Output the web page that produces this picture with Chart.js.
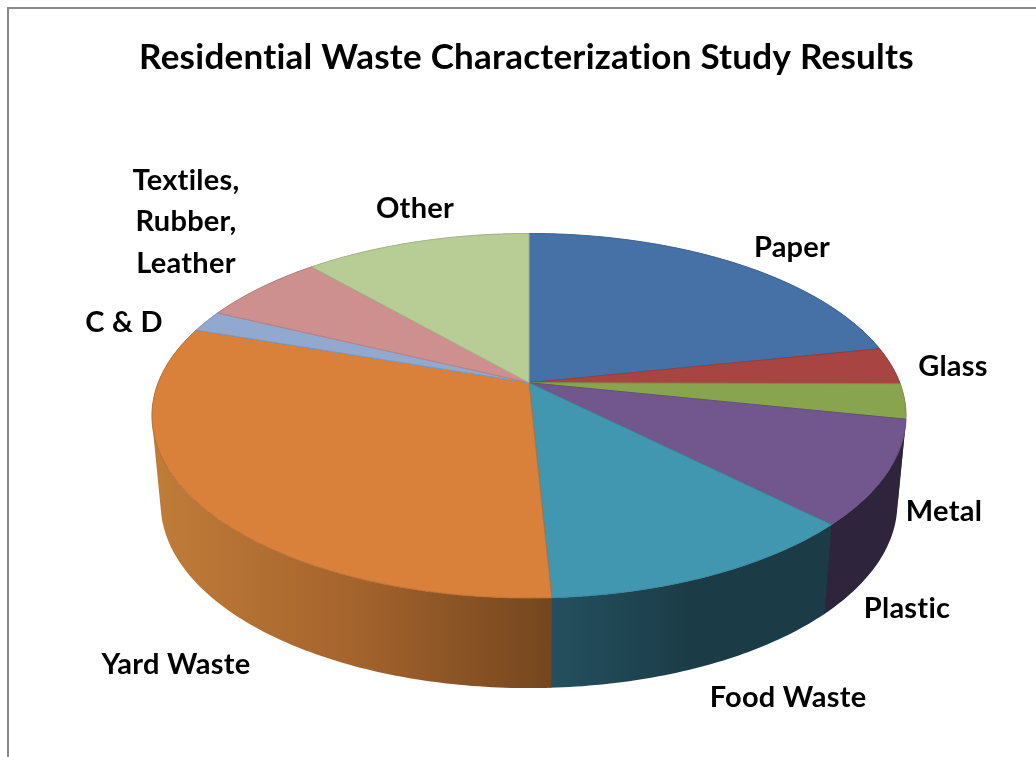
<!DOCTYPE html>
<html>
<head>
<meta charset="utf-8">
<title>Residential Waste Characterization Study Results</title>
<script src="https://cdn.jsdelivr.net/npm/chart.js@4"></script>
<style>
  html, body { margin: 0; padding: 0; background: #fff; overflow: hidden; }
  #frame {
    position: absolute; left: 7px; top: 7px; width: 1100px; height: 800px;
    border-top: 2px solid #8a8a8a; border-left: 2px solid #8a8a8a;
  }
  #wrap { position: absolute; left: 0; top: 0; width: 1036px; height: 757px; }
</style>
</head>
<body>
<div id="frame"></div>
<div id="wrap"><canvas id="chartResiduos" width="1036" height="757"></canvas></div>
<script>
const categorias = ["Paper", "Glass", "Metal", "Plastic", "Food Waste", "Yard Waste", "C & D", ["Textiles,", "Rubber,", "Leather"], "Other"];
const porcentajes = [21.8, 3.3, 3.1, 9.2, 11.8, 30.9, 1.9, 6.4, 11.6];
const colores = ["#4571a6", "#a84543", "#89a44e", "#71578e", "#4197af", "#d9813b", "#91a9cf", "#ce8f8f", "#b8cd96"];
const bordes = ["#3d6594", "#963d3b", "#7a9245", "#644e7e", "#3a869b", "#b97033", "#8197b8", "#b78080", "#a4b685"];

// Centro de cada etiqueta [x, y]
const posEtiquetas = [[792, 248], [953, 367], [944, 512], [907, 609], [788, 698], [176, 665], [124, 323], [186, 222], [415, 209]];

// Pared lateral: paradas del degradado, de izquierda a derecha
const paredes = [
  ["#2f4d70"], ["#5c2625"], ["#4a5a2a"],
  ["#2e243b"],
  ["#24505f", "#1b3c47", "#1b3c47"],
  ["#c07c38", "#a5642d", "#74461e"],
  ["#5a6a84"], ["#7c5555"], ["#6c7a55"],
];

// Geometria de la tarta en perspectiva
const CX = 529, CY = 382.7, RX = 370.8, RY = 176.3, PERSP = 0.1813;
const ENCOGE = 0.977, CAIDA = 86.8, CAIDA_FRENTE = 8.2;

function proyectar(ang, abajo) {
  const x = Math.cos(ang), y = Math.sin(ang);
  const d = 1 - PERSP * y;
  let px = RX * x / d, py = RY * y / d;
  if (abajo) {
    px *= ENCOGE;
    py = py * ENCOGE + CAIDA + CAIDA_FRENTE * y;
  }
  return [CX + px, CY + py];
}

function trazarBorde(ctx, a0, a1) {
  const pasos = Math.max(2, Math.ceil(Math.abs(a1 - a0) / 0.008));
  for (let i = 0; i <= pasos; i++) {
    const p = proyectar(a0 + (a1 - a0) * i / pasos, false);
    ctx.lineTo(p[0], p[1]);
  }
}

function extremosX(a0, a1) {
  let min = Infinity, max = -Infinity;
  for (let i = 0; i <= 100; i++) {
    const x = proyectar(a0 + (a1 - a0) * i / 100, false)[0];
    min = Math.min(min, x);
    max = Math.max(max, x);
  }
  return [min, max];
}

function areaConSigno(pts) {
  let a = 0;
  pts.forEach((p, i) => {
    const q = pts[(i + 1) % pts.length];
    a += p[0] * q[1] - q[0] * p[1];
  });
  return a;
}

// La pared son tiras con la misma orientacion en un solo path,
// asi se cubre el contorno recto de los extremos y no quedan costuras
function pintarPared(ctx, a0, a1, relleno) {
  const pasos = Math.ceil((a1 - a0) / 0.015);
  ctx.beginPath();
  for (let i = 0; i < pasos; i++) {
    const b0 = a0 + (a1 - a0) * i / pasos;
    const b1 = a0 + (a1 - a0) * (i + 1) / pasos;
    const esquinas = [proyectar(b0, false), proyectar(b1, false), proyectar(b1, true), proyectar(b0, true)];
    if (areaConSigno(esquinas) < 0) esquinas.reverse();
    esquinas.forEach((p, j) => (j === 0 ? ctx.moveTo(p[0], p[1]) : ctx.lineTo(p[0], p[1])));
    ctx.closePath();
  }
  ctx.fillStyle = relleno;
  ctx.fill("nonzero");
}

const tartaPerspectiva = {
  id: "tartaPerspectiva",
  beforeDraw(chart) {
    // Evita las ligaduras de Lato en todo el texto
    chart.ctx.letterSpacing = "0.25px";
  },
  beforeDatasetsDraw(chart) {
    const ctx = chart.ctx;
    const arcos = chart.getDatasetMeta(0).data;
    ctx.save();
    ctx.lineJoin = "round";

    // Paredes primero, la cara superior las tapa por detras
    arcos.forEach((arco, i) => {
      const { startAngle, endAngle } = arco.getProps(["startAngle", "endAngle"], true);
      const [xMin, xMax] = extremosX(startAngle, endAngle);
      const grad = ctx.createLinearGradient(xMin, 0, xMax, 0);
      const paradas = paredes[i];
      paradas.forEach((c, j) => {
        grad.addColorStop(paradas.length > 1 ? j / (paradas.length - 1) : 0, c);
      });
      pintarPared(ctx, startAngle, endAngle + 0.003, grad);
    });

    // Cara superior
    arcos.forEach((arco) => {
      const { startAngle, endAngle } = arco.getProps(["startAngle", "endAngle"], true);
      ctx.beginPath();
      ctx.moveTo(CX, CY);
      trazarBorde(ctx, startAngle, endAngle);
      ctx.closePath();
      ctx.fillStyle = arco.options.backgroundColor;
      ctx.strokeStyle = arco.options.borderColor;
      ctx.lineWidth = 1;
      ctx.fill();
      ctx.stroke();
    });

    ctx.restore();
    return false;
  },
  afterDraw(chart) {
    const ctx = chart.ctx;
    ctx.save();
    ctx.font = "bold 29px Lato";
    ctx.fillStyle = "#000";
    ctx.textAlign = "center";
    ctx.textBaseline = "middle";
    categorias.forEach((cat, i) => {
      const lineas = Array.isArray(cat) ? cat : [cat];
      lineas.forEach((txt, j) => {
        ctx.fillText(txt, posEtiquetas[i][0], posEtiquetas[i][1] + (j - (lineas.length - 1) / 2) * 41.5);
      });
    });
    ctx.restore();
  },
};

new Chart(document.getElementById("chartResiduos"), {
  type: "pie",
  data: {
    labels: categorias,
    datasets: [{ data: porcentajes, backgroundColor: colores, borderColor: bordes }],
  },
  options: {
    responsive: false,
    animation: false,
    layout: { padding: { left: 17, top: 37 } },
    plugins: {
      legend: { display: false },
      tooltip: { enabled: false },
      title: {
        display: true,
        text: "Residential Waste Characterization Study Results",
        color: "#000",
        font: { family: "Lato", size: 35, weight: "bold" },
        padding: 0,
      },
    },
  },
  plugins: [tartaPerspectiva],
});
</script>
</body>
</html>
